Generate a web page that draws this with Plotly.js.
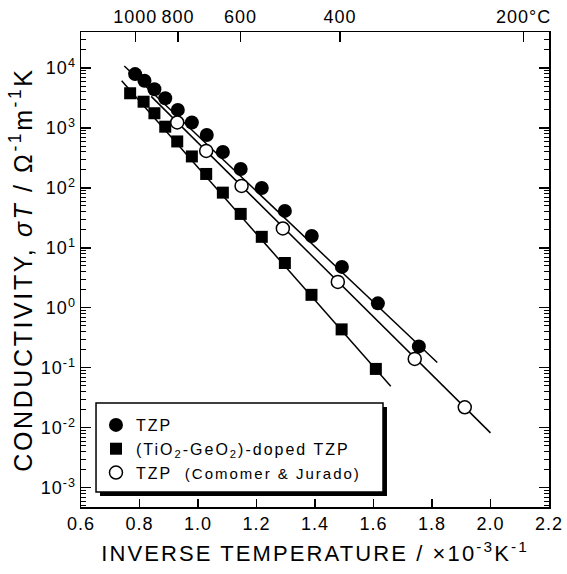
<!DOCTYPE html>
<html><head><meta charset="utf-8">
<script src="https://cdn.plot.ly/plotly-3.0.1.min.js"></script>
<style>
body{margin:0;background:#fff}
#chart{width:567px;height:574px}
text{letter-spacing:1px}
.xtitle{letter-spacing:2.1px}
.ytitle{letter-spacing:2.6px}
.legendtext{letter-spacing:2px}
</style>
</head><body><div id="chart"></div>
<script>
// ---- data ----
const tzpX = [0.785,0.817,0.851,0.888,0.931,0.979,1.030,1.085,1.146,1.218,1.297,1.389,1.492,1.615,1.755];
const tzpY = [7900,6140,4420,3130,2000,1235,765,398,207,100,41.4,15.8,4.82,1.19,0.228];
const dopedX = [0.768,0.814,0.851,0.888,0.929,0.979,1.028,1.085,1.146,1.218,1.297,1.388,1.491,1.608];
const dopedY = [3790,2740,1760,1050,596,335,171,83.5,36.9,15.3,5.6,1.65,0.438,0.096];
const ccX = [0.929,1.028,1.149,1.290,1.478,1.741,1.912];
const ccY = [1235,414,108,21.1,2.71,0.141,0.022];
// fitted lines (end points)
const tzpFitX = [0.748,1.818];
const tzpFitY = [10800,0.1225];
const dopedFitX = [0.739,1.659];
const dopedFitY = [6140,0.0492];
const ccFitX = [0.84,2.0];
const ccFitY = [3360,0.00824];
// names
const seriesNames = ['TZP','(TiO<sub>2</sub>-GeO<sub>2</sub>)-doped TZP','TZP  <span style="font-size:15px">(Comomer &amp; Jurado)</span>'];
// ticks
const xTickVals = [0.6,0.8,1.0,1.2,1.4,1.6,1.8,2.0,2.2];
const xTickText = ['0.6','0.8','1.0','1.2','1.4','1.6','1.8','2.0','2.2'];
const yTickVals = [1e-3,1e-2,1e-1,1,10,100,1000,10000];
const yTickText = ['10<sup>-3</sup>','10<sup>-2</sup>','10<sup>-1</sup>','10<sup>0</sup>','10<sup>1</sup>','10<sup>2</sup>','10<sup>3</sup>','10<sup>4</sup>'];
const topTempC = [1000,800,600,400,200];
const topTickText = ['1000','800','600','400','200°C'];

const topTickVals = topTempC.map(t => 1000/(t+273.15));
const minorVals = [];
for (let e = -4; e <= 4; e++) for (let m = 2; m <= 9; m++) minorVals.push(m*Math.pow(10,e));

const FONT = 'Arial, "Liberation Sans", sans-serif';
const lineStyle = {color:'black', width:1.5};

const traces = [
  {x:tzpFitX, y:tzpFitY, mode:'lines', line:lineStyle, showlegend:false, hoverinfo:'skip'},
  {x:dopedFitX, y:dopedFitY, mode:'lines', line:lineStyle, showlegend:false, hoverinfo:'skip'},
  {x:ccFitX, y:ccFitY, mode:'lines', line:lineStyle, showlegend:false, hoverinfo:'skip'},
  {x:tzpX, y:tzpY, mode:'markers', name:seriesNames[0],
   marker:{symbol:'circle', size:14, color:'black', line:{width:0}}},
  {x:dopedX, y:dopedY, mode:'markers', name:seriesNames[1],
   marker:{symbol:'square', size:12, color:'black', line:{width:0}}},
  {x:ccX, y:ccY, mode:'markers', name:seriesNames[2],
   marker:{symbol:'circle', size:13, color:'white', line:{width:1.5, color:'black'}}},
  {x:[], y:[], xaxis:'x2', yaxis:'y', showlegend:false, hoverinfo:'skip'},
  {x:[], y:[], xaxis:'x', yaxis:'y3', showlegend:false, hoverinfo:'skip'}
];

const yRange = [-3.32, 4.6];
const layout = {
  width:567, height:574,
  margin:{l:81, r:18, t:32, b:67},
  paper_bgcolor:'white', plot_bgcolor:'white',
  font:{family:FONT, size:18, color:'black'},
  showlegend:true,
  legend:{x:0.032, y:0.2084, xanchor:'left', yanchor:'top',
          bgcolor:'rgba(0,0,0,0)', borderwidth:0,
          font:{family:FONT, size:16, color:'black'}, tracegroupgap:0},
  xaxis:{range:[0.6,2.2], tickmode:'array', tickvals:xTickVals, ticktext:xTickText,
         ticks:'inside', ticklen:8, tickwidth:1.2, tickcolor:'black',
         showline:true, linecolor:'black', linewidth:1.5, showgrid:false, zeroline:false,
         tickfont:{size:18}, automargin:'bottom',
         title:{text:'INVERSE TEMPERATURE / ×10<sup>-3</sup>K<sup>-1</sup>\u00a0\u00a0', font:{size:22}, standoff:12}},
  xaxis2:{overlaying:'x', side:'top', anchor:'y', range:[0.6,2.2], tickmode:'array',
          tickvals:topTickVals, ticktext:topTickText,
          ticks:'inside', ticklen:10, tickwidth:1.2, tickcolor:'black',
          showline:true, linecolor:'black', linewidth:1.5, showgrid:false, zeroline:false,
          tickfont:{size:18}, automargin:false},
  yaxis:{type:'log', range:yRange, tickmode:'array', tickvals:yTickVals, ticktext:yTickText,
         ticks:'inside', ticklen:10, tickwidth:1.2, tickcolor:'black', mirror:'ticks',
         showline:true, linecolor:'black', linewidth:1.5, showgrid:false, zeroline:false,
         tickfont:{size:18}, automargin:'left',
         title:{text:'CONDUCTIVITY, <i>σT</i> / Ω<sup>-1</sup>m<sup>-1</sup>K', font:{size:25}, standoff:1}},
  yaxis3:{type:'log', overlaying:'y', side:'left', anchor:'x', range:yRange,
          tickmode:'array', tickvals:minorVals, showticklabels:false,
          ticks:'inside', ticklen:5, tickwidth:1, tickcolor:'black', mirror:'ticks',
          showline:false, showgrid:false, zeroline:false, automargin:false},
  shapes:[
    // legend drop shadow and frame
    {type:'rect', xref:'paper', yref:'paper', x0:0.0406, x1:0.6538, y0:0.0232, y1:0.2105,
     fillcolor:'black', line:{width:0}, layer:'above'},
    {type:'rect', xref:'paper', yref:'paper', x0:0.0321, x1:0.6453, y0:0.0316, y1:0.2189,
     fillcolor:'white', line:{color:'black', width:1.5}, layer:'above'}
  ]
};

Plotly.newPlot('chart', traces, layout, {staticPlot:true, displayModeBar:false});
</script>
</body></html>
